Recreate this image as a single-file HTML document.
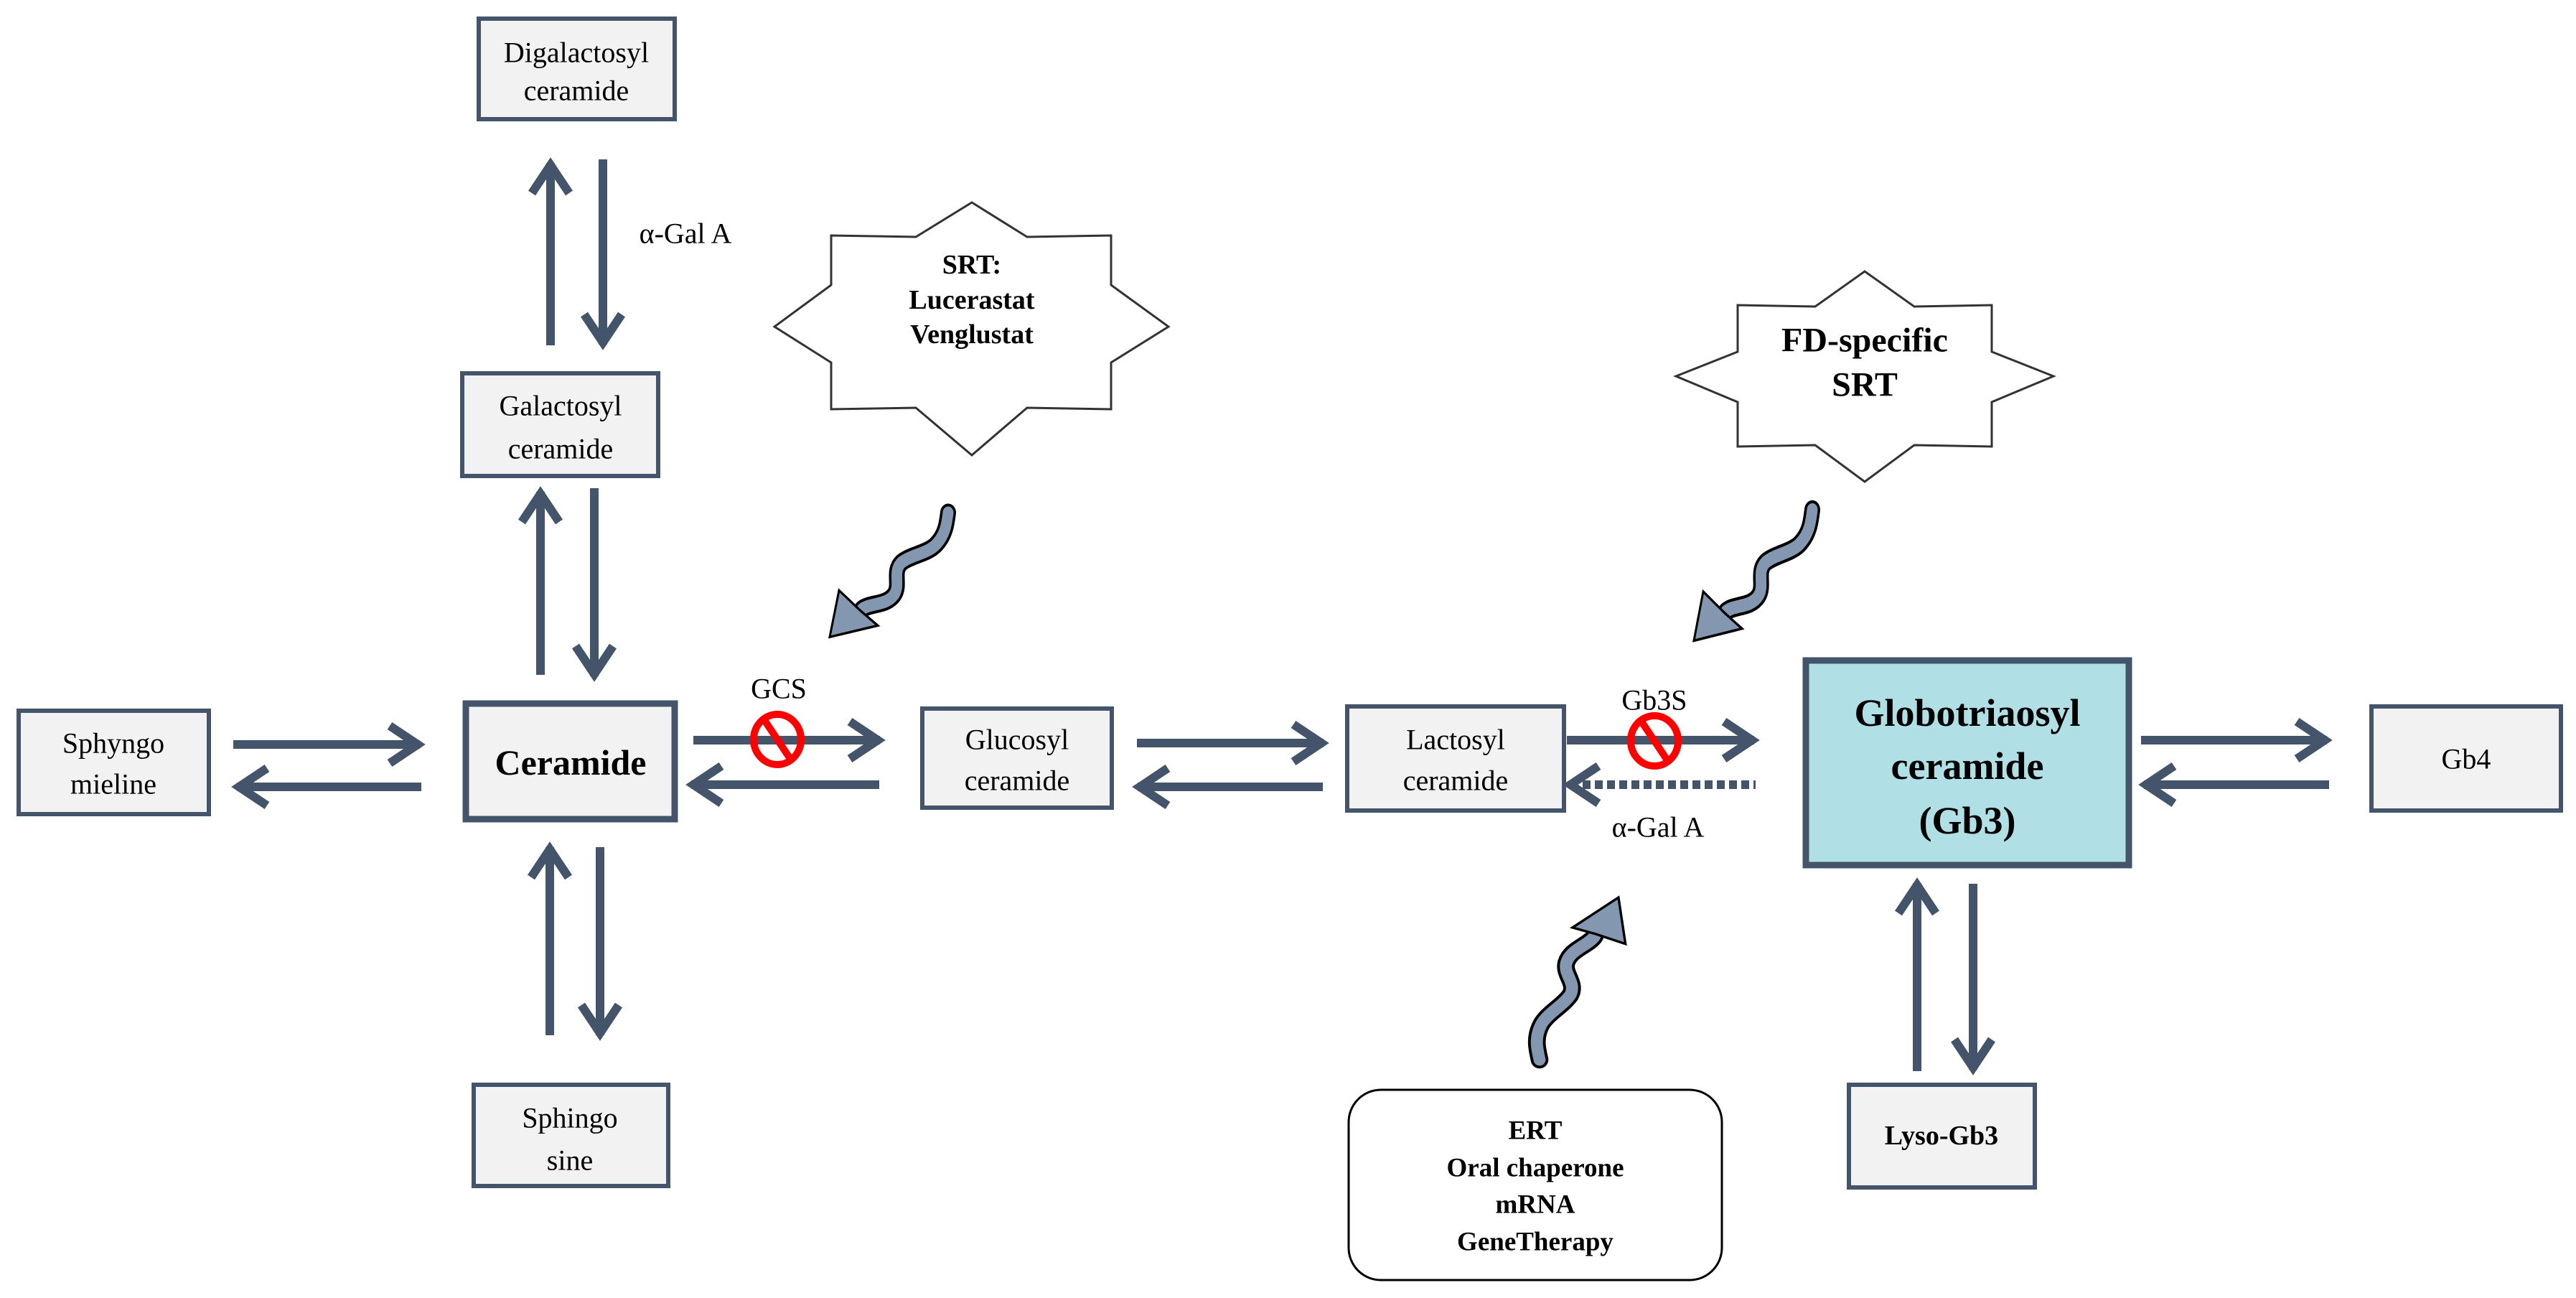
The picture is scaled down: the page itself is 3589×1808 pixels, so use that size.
<!DOCTYPE html>
<html><head><meta charset="utf-8"><style>
html,body{margin:0;padding:0;background:#fff;}
svg{display:block;}
svg text{font-family:"Liberation Serif","Times New Roman",Times,"DejaVu Serif",serif !important;}
</style></head><body>
<svg width="3589" height="1808" viewBox="0 0 3589 1808" xmlns="http://www.w3.org/2000/svg" font-family="Liberation Serif, Times New Roman, serif">
<defs>
<g id="wavy">
<path d="M0,0 C-2,14 -4,28 -18,40 C-30,50 -52,52 -65,61 C-78,72 -66,88 -75,100 C-86,114 -108,110 -120,118" fill="none" stroke="#000" stroke-width="22" stroke-linecap="round"/>
<path d="M0,0 C-2,14 -4,28 -18,40 C-30,50 -52,52 -65,61 C-78,72 -66,88 -75,100 C-86,114 -108,110 -120,118" fill="none" stroke="#8497b0" stroke-width="15" stroke-linecap="round"/>
<polygon points="-152,95 -165,152 -98,138 -122,120" fill="#8497b0" stroke="#000" stroke-width="3"/>
</g>
</defs>

<g fill="#f2f2f2" stroke="#44546a">
<rect x="667" y="26" width="273" height="140" stroke-width="6"/>
<rect x="644" y="520" width="273" height="143" stroke-width="6"/>
<rect x="649" y="980" width="291" height="161" stroke-width="9"/>
<rect x="26" y="990" width="265" height="144" stroke-width="6"/>
<rect x="1285" y="987" width="264" height="138" stroke-width="6"/>
<rect x="1877" y="984" width="302" height="145" stroke-width="6"/>
<rect x="3304" y="984" width="264" height="145" stroke-width="6"/>
<rect x="2576" y="1511" width="259" height="143" stroke-width="6"/>
<rect x="660" y="1511" width="271" height="141" stroke-width="6"/>
<rect x="2516" y="920" width="450" height="285" stroke-width="9" fill="#b0dfe5"/>
</g>
<rect x="1879" y="1518" width="520" height="265" rx="45" fill="#fff" stroke="#000" stroke-width="3"/>

<polygon points="1354,282 1431,330 1548,328 1548,397 1628,455 1548,505 1548,570 1431,568 1354,634 1276,568 1158,570 1158,505 1079,455 1158,397 1158,328 1276,330" fill="#fff" stroke="#333" stroke-width="3"/>
<polygon points="2598,378 2667,427 2775,425 2775,490 2861,524 2775,560 2775,622 2667,620 2598,671 2529,620 2421,622 2421,560 2335,524 2421,490 2421,425 2529,427" fill="#fff" stroke="#333" stroke-width="3"/>

<g fill="none" stroke="#44546a" stroke-width="12" stroke-linejoin="miter">
<line x1="325" y1="1037" x2="585" y2="1037"/><polyline points="543,1011 582,1037 543,1063"/>
<line x1="330" y1="1096" x2="587" y2="1096"/><polyline points="372,1070 333,1096 372,1122"/>
<line x1="966" y1="1031" x2="1226" y2="1031"/><polyline points="1184,1005 1223,1031 1184,1057"/>
<line x1="963" y1="1093" x2="1225" y2="1093"/><polyline points="1005,1067 966,1093 1005,1119"/>
<line x1="1584" y1="1035" x2="1844" y2="1035"/><polyline points="1802,1009 1841,1035 1802,1061"/>
<line x1="1585" y1="1096" x2="1843" y2="1096"/><polyline points="1627,1070 1588,1096 1627,1122"/>
<line x1="2183" y1="1031" x2="2444" y2="1031"/><polyline points="2402,1005 2441,1031 2402,1057"/>
<line x1="2205" y1="1093" x2="2446" y2="1093" stroke-dasharray="11 6"/><polyline points="2227,1067 2188,1093 2227,1119"/>
<line x1="2983" y1="1031" x2="3242" y2="1031"/><polyline points="3200,1005 3239,1031 3200,1057"/>
<line x1="2987" y1="1093" x2="3245" y2="1093"/><polyline points="3029,1067 2990,1093 3029,1119"/>
<line x1="767" y1="481" x2="767" y2="227"/><polyline points="741,269 767,230 793,269"/>
<line x1="840" y1="222" x2="840" y2="480"/><polyline points="814,438 840,477 866,438"/>
<line x1="753" y1="940" x2="753" y2="685"/><polyline points="727,727 753,688 779,727"/>
<line x1="828" y1="680" x2="828" y2="942"/><polyline points="802,900 828,939 854,900"/>
<line x1="766" y1="1442" x2="766" y2="1180"/><polyline points="740,1222 766,1183 792,1222"/>
<line x1="836" y1="1180" x2="836" y2="1442"/><polyline points="810,1400 836,1439 862,1400"/>
<line x1="2671" y1="1492" x2="2671" y2="1230"/><polyline points="2645,1272 2671,1233 2697,1272"/>
<line x1="2749" y1="1231" x2="2749" y2="1490"/><polyline points="2723,1448 2749,1487 2775,1448"/>
</g>

<g fill="none" stroke="#ff0000" stroke-width="10">
<ellipse cx="1083" cy="1030" rx="33" ry="35"/>
<line x1="1065" y1="1003" x2="1101" y2="1057"/>
<ellipse cx="2305" cy="1032" rx="33" ry="35"/>
<line x1="2287" y1="1005" x2="2323" y2="1059"/>
</g>

<use href="#wavy" transform="translate(1321,714) scale(1,1.14)"/>
<use href="#wavy" transform="translate(2525,710) scale(1,1.2)"/>
<use href="#wavy" transform="translate(2145,1476) rotate(158.6) scale(1.12)"/>

<g font-size="40" text-anchor="middle" dominant-baseline="central">
<text x="803" y="73">Digalactosyl</text><text x="803" y="126">ceramide</text>
<text x="781" y="565">Galactosyl</text><text x="781" y="625">ceramide</text>
<text x="158" y="1035">Sphyngo</text><text x="158" y="1092">mieline</text>
<text x="1417" y="1030">Glucosyl</text><text x="1417" y="1087">ceramide</text>
<text x="2028" y="1030">Lactosyl</text><text x="2028" y="1087">ceramide</text>
<text x="3436" y="1057">Gb4</text>
<text x="794" y="1557">Sphingo</text><text x="794" y="1616">sine</text>
<text x="955" y="325">α-Gal A</text>
<text x="1085" y="959">GCS</text>
<text x="2305" y="975">Gb3S</text>
<text x="2310" y="1152">α-Gal A</text>
</g>
<g font-weight="bold" text-anchor="middle" dominant-baseline="central">
<text x="795" y="1062" font-size="50">Ceramide</text>
<text x="2741" y="993" font-size="54">Globotriaosyl</text>
<text x="2741" y="1067" font-size="54">ceramide</text>
<text x="2741" y="1143" font-size="54">(Gb3)</text>
<text x="2705" y="1582" font-size="38">Lyso-Gb3</text>
<text x="1354" y="369" font-size="38">SRT:</text>
<text x="1354" y="418" font-size="38">Lucerastat</text>
<text x="1354" y="466" font-size="38">Venglustat</text>
<text x="2598" y="474" font-size="48">FD-specific</text>
<text x="2598" y="536" font-size="48">SRT</text>
<text x="2139" y="1575" font-size="37">ERT</text>
<text x="2139" y="1627" font-size="37">Oral chaperone</text>
<text x="2139" y="1678" font-size="37">mRNA</text>
<text x="2139" y="1730" font-size="37">GeneTherapy</text>
</g>
</svg>
</body></html>
